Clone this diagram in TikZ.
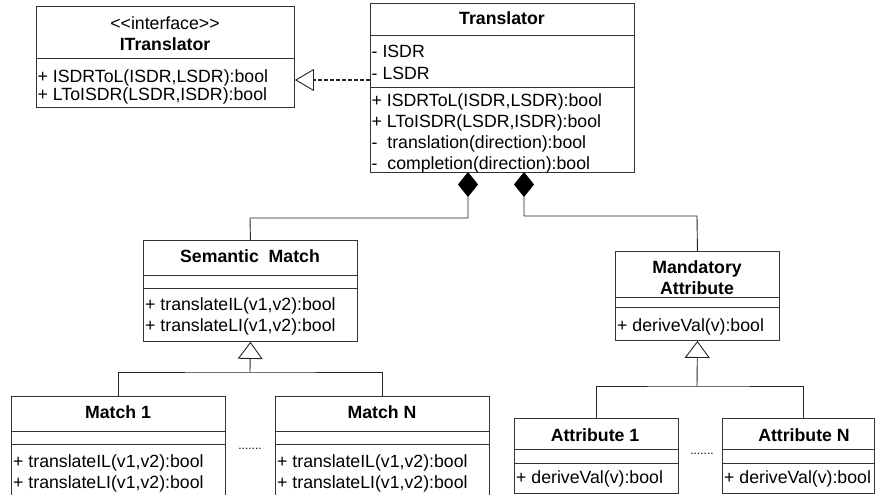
\documentclass[tikz,border=0pt]{standalone}
\usepackage{fontspec}
\setmainfont{Liberation Sans}
\usetikzlibrary{arrows.meta,calc}
\tikzset{
  cls/.style={draw=black!80, line width=0.9pt, inner sep=0pt, anchor=north west},
  sepline/.style={draw=black!80, line width=0.9pt},
  conn/.style={draw=black!85, line width=0.9pt},
  txt/.style={inner sep=0pt, anchor=base west, font=\fontsize{17.7}{21}\selectfont},
  ttl/.style={inner sep=0pt, anchor=base, font=\fontsize{17.7}{21}\selectfont\bfseries},
  stereo/.style={inner sep=0pt, anchor=base, font=\fontsize{17.7}{21}\selectfont},
  dotsnode/.style={inner sep=0pt, anchor=base, font=\fontsize{12}{14}\selectfont},
  gen/.style={conn, -{Triangle[open, length=17pt, width=25pt, line width=0.9pt]}},
  compo/.style={conn, {Diamond[length=25pt, width=20pt, color=black, fill=black]}-},
}
\begin{document}
\begin{tikzpicture}[x=1pt, y=-1pt]
\useasboundingbox (0,0) rectangle (875,495);
\clip (0,0) rectangle (875,495);

% ---------- ITranslator ----------
\node[cls, minimum width=258pt, minimum height=101pt] (itr) at (36,6) {};
\draw[sepline] (36,58) -- (294,58);
\node[stereo] (itrS) at (165,30) {<{}<interface>{}>};
\node[ttl] (itrT) at (165,51) {ITranslator};
\node[txt] (itrM1) at (37.5,82) {+ ISDRToL(ISDR,LSDR):bool};
\node[txt] (itrM2) at (37.5,100) {+ LToISDR(LSDR,ISDR):bool};

% ---------- Translator ----------
\node[cls, minimum width=264pt, minimum height=169pt] (tr) at (370,3) {};
\draw[sepline] (370,35) -- (634,35);
\draw[sepline] (370,87) -- (634,87);
\node[ttl] (trT) at (502,25) {Translator};
\node[txt] (trA1) at (371.5,58) {- ISDR};
\node[txt] (trA2) at (371.5,79) {- LSDR};
\node[txt] (trM1) at (371.5,106) {+ ISDRToL(ISDR,LSDR):bool};
\node[txt] (trM2) at (371.5,127.5) {+ LToISDR(LSDR,ISDR):bool};
\node[txt] (trM3) at (371.5,148.5) {-~ translation(direction):bool};
\node[txt] (trM4) at (371.5,169) {-~ completion(direction):bool};

% ---------- Semantic Match ----------
\node[cls, minimum width=214pt, minimum height=101pt] (sm) at (143,240) {};
\draw[sepline] (143,275) -- (357,275);
\draw[sepline] (143,288) -- (357,288);
\node[ttl] (smT) at (250,262) {Semantic~~Match};
\node[txt] (smM1) at (145,310) {+ translateIL(v1,v2):bool};
\node[txt] (smM2) at (145,331) {+ translateLI(v1,v2):bool};

% ---------- Match 1 ----------
\node[cls, minimum width=214pt, minimum height=110pt] (m1) at (11,396) {};
\draw[sepline] (11,431) -- (225,431);
\draw[sepline] (11,444) -- (225,444);
\node[ttl] (m1T) at (118,418) {Match 1};
\node[txt] (m1M1) at (13,467) {+ translateIL(v1,v2):bool};
\node[txt] (m1M2) at (13,488) {+ translateLI(v1,v2):bool};

% ---------- Match N ----------
\node[cls, minimum width=214pt, minimum height=110pt] (mN) at (275,396) {};
\draw[sepline] (275,431) -- (489,431);
\draw[sepline] (275,444) -- (489,444);
\node[ttl] (mNT) at (382,418) {Match N};
\node[txt] (mNM1) at (277,467) {+ translateIL(v1,v2):bool};
\node[txt] (mNM2) at (277,488) {+ translateLI(v1,v2):bool};

\node[dotsnode] (mdots) at (250,449) {.......};

% ---------- Mandatory Attribute ----------
\node[cls, minimum width=164pt, minimum height=89pt] (ma) at (615,251) {};
\draw[sepline] (615,297) -- (779,297);
\draw[sepline] (615,307) -- (779,307);
\node[ttl] (maT1) at (697,273) {Mandatory};
\node[ttl] (maT2) at (697,294) {Attribute};
\node[txt] (maM1) at (617,331) {+ deriveVal(v):bool};

% ---------- Attribute 1 ----------
\node[cls, minimum width=164pt, minimum height=75pt] (a1) at (514,418) {};
\draw[sepline] (514,449) -- (678,449);
\draw[sepline] (514,463) -- (678,463);
\node[ttl] (a1T) at (595,441) {Attribute 1};
\node[txt] (a1M1) at (516,483) {+ deriveVal(v):bool};

% ---------- Attribute N ----------
\node[cls, minimum width=152pt, minimum height=75pt] (aN) at (722,418) {};
\draw[sepline] (722,449) -- (874,449);
\draw[sepline] (722,463) -- (874,463);
\node[ttl] (aNT) at (804,441) {Attribute N};
\node[txt] (aNM1) at (724,483) {+ deriveVal(v):bool};

\node[dotsnode] (adots) at (702,454) {.......};

% ---------- connectors ----------
% realization
\coordinate (rz) at (370,80);
\draw[conn, line width=1.3pt, dash pattern=on 4pt off 2pt,
      -{Triangle[open, length=19pt, width=22pt, line width=0.9pt, sep=0pt]}]
  (rz) -- (rz -| itr.east);

% compositions
\coordinate (d1) at (468,172);
\coordinate (j1) at (250,218);
\draw[compo] (d1) |- (j1) -- (sm.north);
\coordinate (d2) at (524,172);
\coordinate (j2) at (697,216);
\draw[compo] (d2) |- (j2) -- (ma.north);

% generalization: matches
\coordinate (gs) at (250,372);
\draw[gen] (gs) -- (sm.south);
\draw[conn] (m1.north) |- (gs) -| (mN.north);

% generalization: attributes
\coordinate (ga) at (697,386);
\coordinate (aNtop) at ($(aN.north west)+(81,0)$);
\draw[gen] (ga) -- (ma.south);
\draw[conn] (a1.north) |- (ga) -| (aNtop);
\end{tikzpicture}
\end{document}
